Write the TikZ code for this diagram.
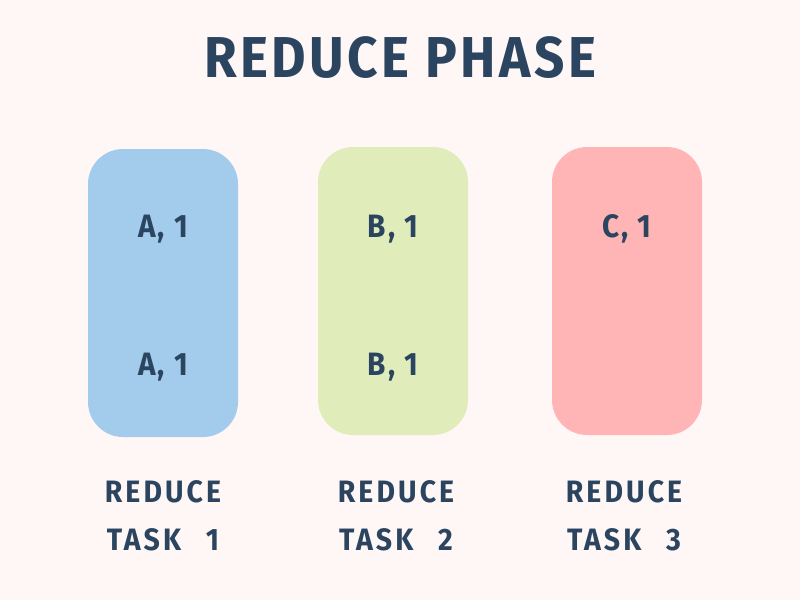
\documentclass[tikz,border=0pt]{standalone}
\usepackage{fontspec}
\setmainfont{Fira Sans}
\newfontfamily\handfont[LetterSpace=6, FakeStretch=0.92]{Fira Sans}
\newfontfamily\capfont[LetterSpace=10, FakeStretch=0.92]{Fira Sans}
\usetikzlibrary{positioning}
\definecolor{bgpink}{HTML}{FFF6F6}
\definecolor{inkblue}{HTML}{2B4560}
\definecolor{boxblue}{HTML}{A3CBEB}
\definecolor{boxgreen}{HTML}{E0ECBA}
\definecolor{boxred}{HTML}{FFB5B5}
\tikzset{
  task/.style={rounded corners=25, minimum width=150*0.025cm, minimum height=288*0.025cm, inner sep=0pt},
  pair/.style={text=inkblue, font=\handfont\bfseries\fontsize{23}{25}\selectfont},
  caption/.style={text=inkblue, font=\capfont\bfseries\fontsize{22}{24}\selectfont}
}
\begin{document}
\begin{tikzpicture}[x=0.025cm, y=-0.025cm]
    \fill [bgpink] (0, 0) rectangle (800, 600);
    \useasboundingbox (0, 0) rectangle (800, 600);
    \node [text=inkblue, font=\handfont\bfseries\fontsize{41}{44}\selectfont] (title) at (400, 58) {REDUCE PHASE};
    % the three reduce tasks
    \node [task, fill=boxblue] (t1) at (163, 293) {};
    \node [task, fill=boxgreen] (t2) at (393, 291) {};
    \node [task, fill=boxred] (t3) at (627, 291) {};
    \node [pair] (a1) at (163, 229) {A, 1};
    \node [pair] (a2) at (163, 367) {A, 1};
    \node [pair] (b1) at (393, 229) {B, 1};
    \node [pair] (b2) at (393, 367) {B, 1};
    \node [pair] (c1) at (627, 229) {C, 1};
    \node [caption, align=center] (l1) at (163, 516) {REDUCE\\[10pt]TASK\ \ \,1};
    \node [caption, align=center] (l2) at (396, 516) {REDUCE\\[10pt]TASK\ \ \,2};
    \node [caption, align=center] (l3) at (624, 516) {REDUCE\\[10pt]TASK\ \ \,3};
  \end{tikzpicture}
\end{document}
